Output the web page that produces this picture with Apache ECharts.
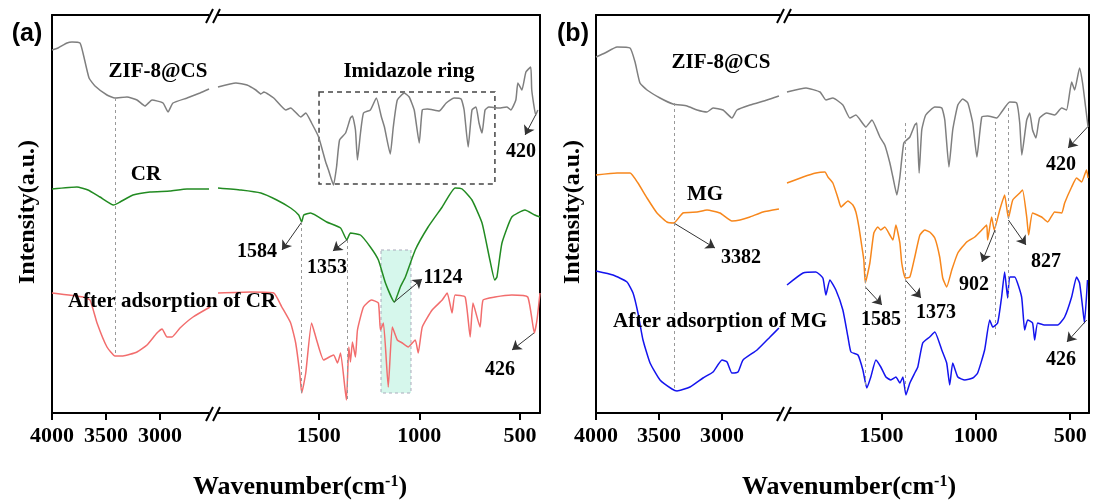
<!DOCTYPE html>
<html>
<head>
<meta charset="utf-8">
<script src="https://cdn.jsdelivr.net/npm/echarts@6/dist/echarts.min.js"></script>
<style>
  html, body { margin: 0; padding: 0; background: #fff; }
  #chart { width: 1095px; height: 502px; }
</style>
</head>
<body>
<div id="chart"></div>
<script>
// tick labels for the two halves of each broken axis
const ticksHigh = [4000, 3500, 3000]
const ticksLow = [1500, 1000, 500]

// panel (a) — [wavenumber, intensity a.u.]
const zifA_high = [[4000,363],[3944,365],[3861,370],[3815,371],[3741,370],[3713,360],[3657,335],[3602,327],[3491,318],[3417,315],[3306,316],[3213,313],[3139,307],[3074,313],[2972,310],[2926,301],[2880,310],[2750,315],[2630,320],[2546,324]]
const zifA_low = [[2000,326],[1911,330],[1856,328],[1812,323],[1787,319],[1772,321],[1723,315],[1663,303],[1639,305],[1589,296],[1564,300],[1535,290],[1500,276],[1465,251],[1451,243],[1426,228],[1411,246],[1396,273],[1366,280],[1342,295],[1332,297],[1317,283],[1307,253],[1292,280],[1277,300],[1243,303],[1213,315],[1188,296],[1173,286],[1144,259],[1129,286],[1109,313],[1074,320],[1050,316],[1025,303],[1000,270],[985,303],[960,304],[901,302],[866,310],[827,315],[792,314],[777,303],[757,266],[738,303],[718,306],[703,290],[688,280],[673,303],[654,306],[604,305],[564,306],[545,303],[520,313],[510,330],[490,323],[470,341],[446,346],[441,323],[421,298],[411,303]]
const crA_high = [[4000,224],[3769,226],[3667,223],[3556,216],[3430,208],[3370,211],[3250,218],[3093,221],[2907,222],[2750,224],[2546,224]]
const crA_low = [[2000,225],[1886,223],[1787,220],[1708,213],[1639,205],[1599,198],[1584,191],[1574,198],[1540,200],[1460,191],[1391,185],[1360,173],[1342,180],[1292,178],[1243,166],[1203,153],[1168,130],[1124,111],[1094,126],[1069,136],[1020,163],[956,186],[886,206],[822,225],[787,224],[738,213],[688,190],[649,153],[625,133],[614,136],[589,170],[540,196],[475,203],[426,198],[400,196]]
const adsCR_high = [[4000,120],[3713,116],[3648,113],[3583,90],[3491,66],[3417,57],[3343,57],[3213,61],[3120,68],[3028,80],[2981,84],[2935,76],[2889,76],[2815,85],[2694,96],[2537,106]]
const adsCR_low = [[2000,120],[1837,121],[1723,120],[1683,106],[1639,90],[1614,70],[1594,40],[1584,20],[1564,40],[1535,90],[1510,73],[1475,53],[1426,58],[1406,50],[1391,60],[1362,13],[1350,66],[1342,51],[1332,71],[1317,56],[1307,83],[1277,106],[1238,113],[1203,110],[1193,83],[1178,90],[1154,26],[1134,86],[1109,73],[1084,70],[1055,66],[1020,73],[1005,60],[985,86],[936,103],[886,113],[861,120],[837,100],[822,118],[772,116],[747,76],[733,110],[698,86],[683,113],[624,116],[540,118],[461,116],[428,80],[415,93],[400,120]]

// panel (b)
const zifB_high = [[4000,356],[3929,360],[3833,366],[3730,365],[3690,351],[3651,330],[3595,323],[3492,315],[3389,309],[3278,307],[3198,303],[3119,301],[3071,305],[2992,303],[2921,295],[2881,303],[2778,308],[2643,313],[2548,317]]
const zifB_low = [[2000,321],[1899,325],[1825,321],[1794,313],[1757,315],[1704,308],[1667,295],[1635,298],[1582,286],[1550,293],[1508,276],[1482,268],[1455,250],[1439,236],[1418,218],[1402,236],[1381,270],[1349,276],[1323,288],[1312,290],[1300,240],[1286,283],[1265,298],[1217,306],[1180,305],[1164,293],[1142,246],[1122,283],[1095,308],[1069,314],[1042,310],[1016,290],[994,256],[968,296],[937,297],[889,295],[863,301],[820,311],[783,310],[767,290],[756,258],[730,293],[714,300],[699,283],[681,275],[662,295],[625,300],[582,298],[545,305],[519,303],[492,331],[476,323],[450,345],[434,330],[418,306],[405,286]]
const mgB_high = [[4000,238],[3833,240],[3730,240],[3667,230],[3595,215],[3516,200],[3437,191],[3382,190],[3310,200],[3198,201],[3119,203],[3016,200],[2921,192],[2857,193],[2778,196],[2675,201],[2548,204]]
const mgB_low = [[2000,230],[1915,236],[1847,240],[1799,241],[1783,236],[1757,230],[1730,215],[1714,206],[1677,212],[1651,208],[1635,201],[1619,186],[1603,166],[1593,153],[1585,130],[1561,150],[1540,180],[1519,186],[1503,183],[1482,186],[1455,178],[1439,173],[1423,188],[1402,170],[1392,150],[1373,135],[1349,136],[1323,156],[1296,178],[1270,183],[1244,181],[1217,175],[1191,156],[1175,135],[1154,126],[1127,143],[1095,160],[1048,171],[1005,176],[968,183],[942,188],[937,173],[916,196],[902,183],[873,203],[847,218],[827,195],[804,213],[767,220],[752,223],[730,196],[720,178],[699,200],[651,196],[619,191],[582,201],[545,200],[529,210],[492,226],[466,235],[439,231],[413,243],[405,235]]
const adsMG_high = [[4000,142],[3865,138],[3754,131],[3706,120],[3667,100],[3627,73],[3571,50],[3492,33],[3397,24],[3357,22],[3254,26],[3151,35],[3071,41],[3000,53],[2960,51],[2921,40],[2873,41],[2833,53],[2722,63],[2619,76],[2548,85]]
const adsMG_low = [[2000,128],[1915,140],[1847,141],[1810,135],[1794,118],[1773,133],[1741,123],[1704,103],[1677,76],[1661,61],[1624,58],[1598,43],[1577,25],[1556,36],[1529,53],[1503,46],[1476,36],[1450,33],[1423,36],[1402,30],[1386,36],[1370,18],[1349,30],[1323,40],[1307,46],[1281,70],[1244,76],[1217,81],[1180,63],[1154,50],[1138,28],[1122,50],[1095,36],[1058,33],[1016,35],[990,40],[953,63],[926,93],[910,86],[884,90],[863,116],[847,141],[831,115],[820,136],[794,136],[757,116],[741,83],[725,93],[699,90],[688,73],[672,90],[635,88],[566,88],[529,96],[492,116],[466,136],[450,130],[434,106],[424,90],[408,133]]

const SERIF = "'Liberation Serif', 'Times New Roman', serif"
const GRAY = '#7f7f7f'
const GREEN = '#228b22'
const RED = '#f26d6d'
const ORANGE = '#f7871c'
const BLUE = '#1414ee'

const chart = echarts.init(document.getElementById('chart'))

// 4 grids: (a) high / low, (b) high / low
const grids = [
  { left: 52, width: 162, top: 15, height: 398 },
  { left: 218, width: 322, top: 15, height: 398 },
  { left: 596, width: 189, top: 15, height: 398 },
  { left: 787, width: 302, top: 15, height: 398 }
]
const isHigh = [true, false, true, false]

const xAxes = []
grids.forEach((g, i) => {
  const ticks = isHigh[i] ? ticksHigh : ticksLow
  xAxes.push({
    type: 'value', gridIndex: i, inverse: true, position: 'bottom',
    min: isHigh[i] ? 2500 : 400, max: isHigh[i] ? 4000 : 2000,
    axisLine: { show: true, onZero: false, lineStyle: { color: '#000', width: 2 } },
    axisTick: { show: true, length: 7, customValues: ticks, lineStyle: { color: '#000', width: 2 } },
    axisLabel: {
      customValues: ticks, margin: 12, color: '#000',
      fontFamily: SERIF, fontWeight: 'bold', fontSize: 22,
      formatter: v => String(v)
    },
    splitLine: { show: false }
  })
})
grids.forEach((g, i) => {
  xAxes.push({
    type: 'value', gridIndex: i, inverse: true, position: 'top',
    min: isHigh[i] ? 2500 : 400, max: isHigh[i] ? 4000 : 2000,
    axisLine: { show: true, onZero: false, lineStyle: { color: '#000', width: 2 } },
    axisTick: { show: false }, axisLabel: { show: false }, splitLine: { show: false }
  })
})
const yAxes = grids.map((g, i) => ({
  type: 'value', gridIndex: i, min: 0, max: 398,
  position: isHigh[i] ? 'left' : 'right',
  axisLine: { show: true, onZero: false, lineStyle: { color: '#000', width: 2 } },
  axisTick: { show: false }, axisLabel: { show: false }, splitLine: { show: false }
}))

const dashStyle = { color: '#999', width: 1, type: [3, 3] }
const arrowStyle = { color: '#333', width: 1, type: 'solid' }

function vlines(list) {
  return {
    silent: true, symbol: ['none', 'none'], label: { show: false }, lineStyle: dashStyle,
    data: list.map(v => [{ coord: [v[0], v[1]] }, { coord: [v[0], v[2]] }])
  }
}
function arrows(list) {
  return {
    silent: true, symbol: ['none', 'arrow'], symbolSize: 9, label: { show: false }, lineStyle: arrowStyle,
    itemStyle: { color: '#111' },
    data: list.map(a => [{ coord: [a[0], a[1]] }, { coord: [a[2], a[3]] }])
  }
}

function line(data, grid, color, extra) {
  return Object.assign({
    type: 'line', xAxisIndex: grid, yAxisIndex: grid, data,
    showSymbol: false, symbol: 'none', animation: false, silent: true,
    smooth: 0.15,
    lineStyle: { color, width: 1.5 }, itemStyle: { color }
  }, extra || {})
}

const series = [
  line(zifA_high, 0, GRAY),
  line(crA_high, 0, GREEN),
  line(adsCR_high, 0, RED, { markLine: vlines([[3417, 315, 57]]) }),
  line(zifA_low, 1, GRAY, {
    markArea: {
      silent: true,
      itemStyle: { color: 'rgba(0,0,0,0)', borderColor: '#444', borderWidth: 1.5, borderType: [5, 4] },
      data: [[{ coord: [1498, 321] }, { coord: [624, 229] }]]
    },
    markLine: arrows([[1584, 191, 1682, 163], [1360, 173, 1429, 162], [1124, 111, 986, 134], [422, 298, 474, 278], [430, 80, 539, 63]])
  }),
  line(crA_low, 1, GREEN, {
    markArea: {
      silent: true,
      itemStyle: { color: '#d6f7ec', borderColor: '#aab', borderWidth: 1, borderType: [3, 3] },
      data: [[{ coord: [1190, 163] }, { coord: [1041, 20] }]]
    }
  }),
  line(adsCR_low, 1, RED, { markLine: vlines([[1584, 191, 20], [1360, 173, 13]]) }),
  line(zifB_high, 2, GRAY),
  line(mgB_high, 2, ORANGE, { markLine: arrows([[3382, 190, 3056, 165]]) }),
  line(adsMG_high, 2, BLUE, { markLine: vlines([[3382, 310, 24]]) }),
  line(zifB_low, 3, GRAY, {
    markLine: arrows([[1585, 126, 1497, 108], [1373, 133, 1290, 115], [898, 183, 967, 151], [827, 193, 734, 168], [408, 286, 511, 265], [412, 93, 517, 71]])
  }),
  line(mgB_low, 3, ORANGE),
  line(adsMG_low, 3, BLUE, { markLine: vlines([[1585, 283, 25], [1373, 290, 20], [898, 291, 78], [827, 305, 113]]) })
]

function txt(text, x, y, size, opts) {
  opts = opts || {}
  return {
    type: 'text', x, y, rotation: opts.rotation || 0, z: 100, silent: true,
    style: {
      text, fill: '#000', fontFamily: opts.family || SERIF, fontWeight: 'bold', fontSize: size,
      align: 'center', verticalAlign: 'middle', textAlign: 'center', textVerticalAlign: 'middle',
      rich: opts.rich
    }
  }
}
function brk(cx, y) {
  return [
    { type: 'rect', z: 90, silent: true, shape: { x: cx - 5, y: y - 4, width: 8, height: 8 }, style: { fill: '#fff' } },
    { type: 'line', z: 95, silent: true, shape: { x1: cx - 8, y1: y + 8, x2: cx - 1, y2: y - 6 }, style: { stroke: '#000', lineWidth: 2 } },
    { type: 'line', z: 95, silent: true, shape: { x1: cx - 1, y1: y + 8, x2: cx + 6, y2: y - 6 }, style: { stroke: '#000', lineWidth: 2 } }
  ]
}
const waveRich = {
  a: { fontFamily: SERIF, fontWeight: 'bold', fontSize: 26, verticalAlign: 'bottom' },
  s: { fontFamily: SERIF, fontWeight: 'bold', fontSize: 16, verticalAlign: 'top' }
}
const waveText = '{a|Wavenumber(cm}{s|-1}{a|)}'

const graphic = [
  txt('(a)', 27, 34, 25, { family: "'Liberation Sans', Arial, sans-serif" }),
  txt('(b)', 573, 34, 25, { family: "'Liberation Sans', Arial, sans-serif" }),
  txt('Intensity(a.u.)', 28, 212, 24, { rotation: Math.PI / 2 }),
  txt('Intensity(a.u.)', 573, 212, 24, { rotation: Math.PI / 2 }),
  txt(waveText, 300, 487, 26, { rich: waveRich }),
  txt(waveText, 849, 487, 26, { rich: waveRich }),
  txt('ZIF-8@CS', 158, 72, 21),
  txt('Imidazole ring', 409, 72, 21),
  txt('420', 521, 152, 20),
  txt('CR', 146, 175, 21),
  txt('1584', 257, 252, 20),
  txt('1353', 327, 268, 20),
  txt('1124', 443, 278, 20),
  txt('After adsorption of CR', 172, 302, 21),
  txt('426', 500, 370, 20),
  txt('ZIF-8@CS', 721, 63, 21),
  txt('MG', 705, 195, 21),
  txt('3382', 741, 258, 20),
  txt('After adsorption of MG', 720, 322, 21),
  txt('1585', 881, 320, 20),
  txt('1373', 936, 313, 20),
  txt('902', 974, 285, 20),
  txt('827', 1046, 262, 20),
  txt('420', 1061, 165, 20),
  txt('426', 1061, 360, 20)
].concat(brk(214, 15), brk(214, 413), brk(785, 15), brk(785, 413))

chart.setOption({
  animation: false,
  grid: grids,
  xAxis: xAxes,
  yAxis: yAxes,
  series,
  graphic
})
</script>
</body>
</html>
